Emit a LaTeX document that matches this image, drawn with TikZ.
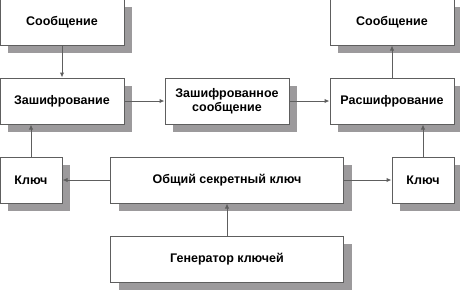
\documentclass[tikz,border=0pt]{standalone}
\usepackage{fontspec}
\setmainfont{Liberation Sans}
\usetikzlibrary{positioning,shadows,arrows.meta}
\definecolor{linegray}{HTML}{5E5E5E}
\definecolor{shadowgray}{HTML}{9C9A9C}
\begin{document}
\begin{tikzpicture}[
  node distance=32pt and 40pt,
  every node/.style={font=\fontsize{12.5}{13.5}\selectfont\bfseries},
  box/.style={
    draw=linegray,
    fill=white,
    line width=1pt,
    align=center,
    inner sep=0pt,
    minimum width=124pt,
    minimum height=46pt,
    drop shadow={shadow xshift=8pt, shadow yshift=-8pt, fill=shadowgray, opacity=1}
  },
  keybox/.style={box, minimum width=62pt},
  widebox/.style={box, minimum width=233pt},
  arrow/.style={-{Latex[length=5pt,width=4.5pt]}, draw=linegray, line width=1pt}
]
\useasboundingbox (0pt,0pt) rectangle (460pt,-289pt);
\node[box] (enc) at (62pt,-101pt) {Зашифрование};
\node[box, above=of enc] (msgA) {Сообщение};
\node[box, right=of enc] (cipher) {Зашифрованное\\сообщение};
\node[box, right=of cipher] (dec) {Расшифрование};
\node[box, above=of dec] (msgB) {Сообщение};
\node[widebox, below=of cipher] (secret) {Общий секретный ключ};
\node[widebox, below=of secret] (gen) {Генератор ключей};
\node[keybox, below=of enc.south west, anchor=north west] (keyA) {Ключ};
\node[keybox, below=of dec.south east, anchor=north east] (keyB) {Ключ};
\draw[arrow] (msgA) -- (enc);
\draw[arrow] (enc) -- (cipher);
\draw[arrow] (cipher) -- (dec);
\draw[arrow] (dec) -- (msgB);
\draw[arrow] (secret) -- (keyA);
\draw[arrow] (secret) -- (keyB);
\draw[arrow] (gen) -- (secret);
\draw[arrow] (keyA) -- (keyA |- enc.south);
\draw[arrow] (keyB) -- (keyB |- dec.south);
\end{tikzpicture}
\end{document}
